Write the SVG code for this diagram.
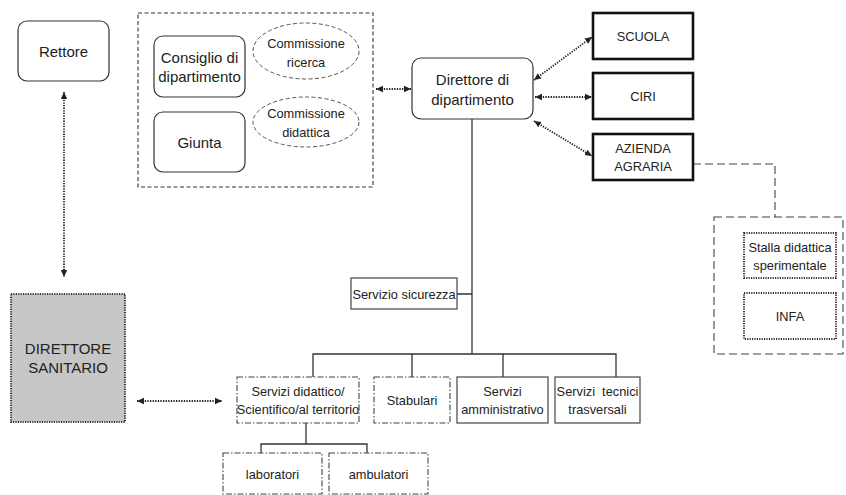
<svg xmlns="http://www.w3.org/2000/svg" width="846" height="495" viewBox="0 0 846 495">
<defs>
<marker id="ah" markerUnits="userSpaceOnUse" markerWidth="8" markerHeight="8" refX="7" refY="4" orient="auto-start-reverse">
<path d="M0,0.8 L7,4 L0,7.2 Z" fill="#222"/>
</marker>
</defs>
<style>
text{font-family:"Liberation Sans",Arial,sans-serif;fill:#222;text-anchor:middle}
.t14{font-size:15px}
.t12{font-size:12.8px}
.round{fill:#fff;stroke:#333;stroke-width:1.2}
.thick{fill:#fff;stroke:#111;stroke-width:2.6}
.solid{fill:#fff;stroke:#444;stroke-width:1.2}
.dashdot{fill:#fff;stroke:#444;stroke-width:1.1;stroke-dasharray:6 2 1.5 2}
.dotted{fill:#fff;stroke:#333;stroke-width:2;stroke-dasharray:1.2 1.2}
.dashedbig{fill:none;stroke:#333;stroke-width:1.1;stroke-dasharray:4 2.5}
.ell{fill:#fff;stroke:#555;stroke-width:1;stroke-dasharray:4 2.5}
.dashedlong{fill:none;stroke:#444;stroke-width:1.1;stroke-dasharray:8 4}
.arr{fill:none;stroke:#222;stroke-width:1.8;stroke-dasharray:1.3 1.3;marker-start:url(#ah);marker-end:url(#ah)}
.tree{fill:none;stroke:#333;stroke-width:1.3}
</style>

<g id="connectors">
<line class="arr" x1="64" y1="92" x2="64" y2="277"/>
<line class="arr" x1="376" y1="89" x2="411" y2="89"/>
<line class="arr" x1="534" y1="80" x2="592" y2="37"/>
<line class="arr" x1="535" y1="97" x2="592" y2="97"/>
<line class="arr" x1="534" y1="121" x2="592" y2="156"/>
<line class="arr" x1="137" y1="401" x2="222" y2="401"/>
<path class="dashedlong" d="M693,164 H775 V217"/>
<path class="tree" d="M472,119 V354 M457,294 H472 M313,377 V354 H616 V377 M412,354 V377 M503,354 V377"/>
<path class="tree" d="M306,423 V444 M261,453 V444 H367 V453"/>
</g>

<g id="rettore">
<rect class="round" x="18" y="21" width="91" height="60" rx="9"/>
<text class="t14" x="63.5" y="57">Rettore</text>
</g>

<g id="consiglio-group">
<rect class="dashedbig" x="138" y="13" width="235" height="174"/>
</g>
<g id="consiglio">
<rect class="round" x="154" y="36" width="91" height="61" rx="9"/>
<text class="t14" x="199.5" y="63">Consiglio di</text>
<text class="t14" x="199.5" y="82">dipartimento</text>
</g>
<g id="giunta">
<rect class="round" x="154" y="112" width="91" height="60" rx="9"/>
<text class="t14" x="199.5" y="148">Giunta</text>
</g>
<g id="comm-ricerca">
<ellipse class="ell" cx="306" cy="51" rx="53" ry="28"/>
<text class="t12" x="306" y="48">Commissione</text>
<text class="t12" x="306" y="67">ricerca</text>
</g>
<g id="comm-didattica">
<ellipse class="ell" cx="306" cy="122" rx="53" ry="25"/>
<text class="t12" x="306" y="118">Commissione</text>
<text class="t12" x="306" y="137">didattica</text>
</g>

<g id="direttore">
<rect class="round" x="412" y="58" width="121" height="61" rx="9"/>
<text class="t14" x="472.5" y="85">Direttore di</text>
<text class="t14" x="472.5" y="105">dipartimento</text>
</g>

<g id="scuola">
<rect class="thick" x="593" y="13" width="100" height="46"/>
<text class="t12" x="643" y="41">SCUOLA</text>
</g>
<g id="ciri">
<rect class="thick" x="593" y="73" width="100" height="46"/>
<text class="t12" x="643" y="101">CIRI</text>
</g>
<g id="azienda">
<rect class="thick" x="593" y="134" width="100" height="46"/>
<text class="t12" x="643" y="153">AZIENDA</text>
<text class="t12" x="643" y="171">AGRARIA</text>
</g>

<g id="azienda-group">
<rect class="dashedlong" x="714" y="217" width="129" height="137"/>
</g>
<g id="stalla">
<rect class="dotted" x="744" y="233" width="92" height="45"/>
<text class="t12" x="790" y="252">Stalla didattica</text>
<text class="t12" x="790" y="270">sperimentale</text>
</g>
<g id="infa">
<rect class="dotted" x="744" y="293" width="92" height="46"/>
<text class="t12" x="790" y="321">INFA</text>
</g>

<g id="sicurezza">
<rect class="solid" x="351" y="278" width="106" height="31"/>
<text class="t12" x="404" y="299">Servizio sicurezza</text>
</g>

<g id="direttore-sanitario">
<rect x="11" y="294" width="114" height="128" fill="#c6c6c6" stroke="#333" stroke-width="2" stroke-dasharray="1.2 1.2"/>
<text class="t14" x="68" y="354">DIRETTORE</text>
<text class="t14" x="68" y="373">SANITARIO</text>
</g>

<g id="servizi-didattico">
<rect class="dashdot" x="237" y="377" width="122" height="46"/>
<text class="t12" x="298" y="396">Servizi didattico/</text>
<text class="t12" x="298" y="414">Scientifico/al territorio</text>
</g>
<g id="stabulari">
<rect class="dashdot" x="374" y="377" width="76" height="46"/>
<text class="t12" x="412" y="405">Stabulari</text>
</g>
<g id="servizi-amministrativo">
<rect class="solid" x="457" y="377" width="91" height="46"/>
<text class="t12" x="502.5" y="396">Servizi</text>
<text class="t12" x="502.5" y="414">amministrativo</text>
</g>
<g id="servizi-tecnici">
<rect class="solid" x="555" y="377" width="85" height="46"/>
<text class="t12" x="597.5" y="396" xml:space="preserve">Servizi  tecnici</text>
<text class="t12" x="597.5" y="414">trasversali</text>
</g>

<g id="laboratori">
<rect class="dashdot" x="223" y="453" width="99" height="41"/>
<text class="t12" x="272.5" y="479">laboratori</text>
</g>
<g id="ambulatori">
<rect class="dashdot" x="329" y="453" width="99" height="41"/>
<text class="t12" x="378.5" y="479">ambulatori</text>
</g>
</svg>
